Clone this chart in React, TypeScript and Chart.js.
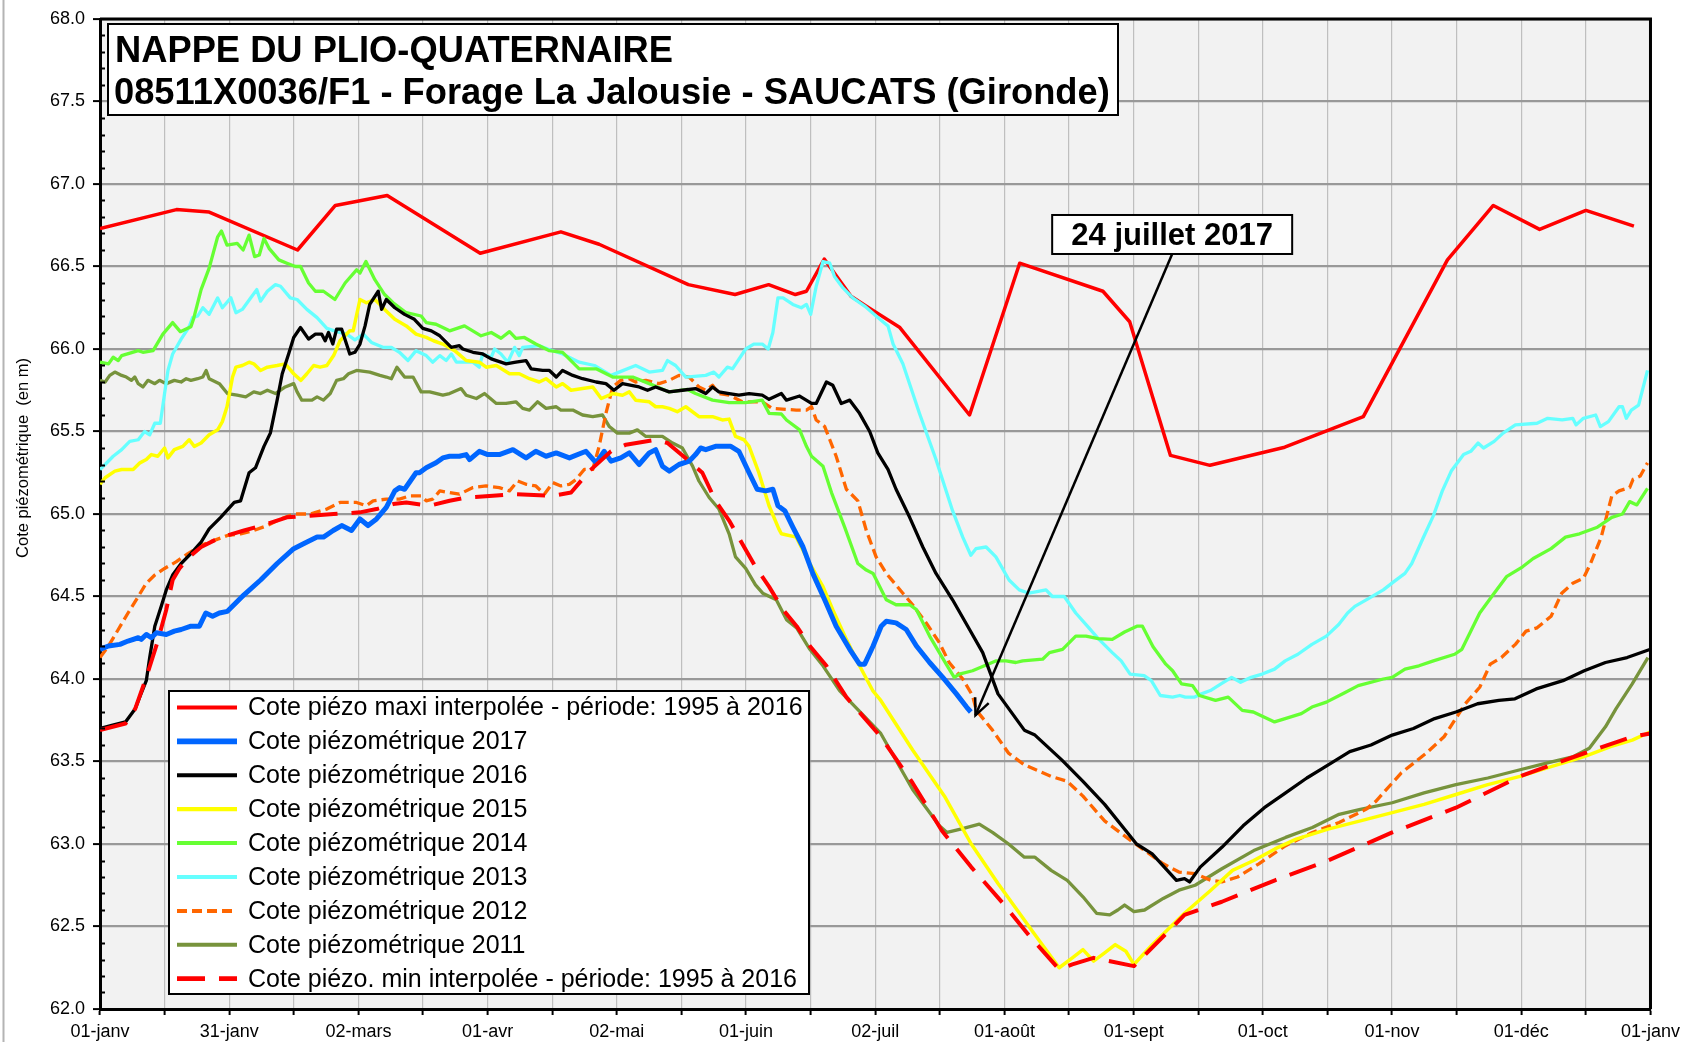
import React, { useEffect, useRef } from 'react';
import { Chart, registerables } from 'chart.js';

Chart.register(...registerables);

const FONT = "'Liberation Sans', Arial, Helvetica, sans-serif";
const W = 1686;
const H = 1042;

// ---------- texts ----------
const titleLines = ['NAPPE DU PLIO-QUATERNAIRE', '08511X0036/F1 - Forage La Jalousie - SAUCATS (Gironde)'];
const yAxisTitle = 'Cote piézométrique  (en m)';
const xTickLabels = ['01-janv', '31-janv', '02-mars', '01-avr', '02-mai', '01-juin', '02-juil', '01-août', '01-sept', '01-oct', '01-nov', '01-déc', '01-janv'];
const annotationText = '24 juillet 2017';

// ---------- axes ----------
const yMin = 62;
const yMax = 68;
const yStep = 0.5;
const yMinorStep = 0.1;
const dayMax = 365;
const xSubdivisions = 24;

// annotation anchor (day, level) and arrow tip
const annotationAnchor = [252.4, 66.694];
const annotationTip = [206.1, 63.78];

type Pt = [number, number];

// ---------- series: [day of year, level in m] ----------
const maxInterp: Pt[] = [[0,66.73],[18,66.845],[25.7,66.83],[46.5,66.6],[55.4,66.87],[67.6,66.93],[89.5,66.58],[108.5,66.71],[117.5,66.635],[138.5,66.39],[149.5,66.33],[157.4,66.39],[163.7,66.33],[166.3,66.35],[170.5,66.545],[176.8,66.32],[180.4,66.26],[188.3,66.13],[204.7,65.6],[216.5,66.52],[236.1,66.35],[242.4,66.165],[252,65.355],[261.3,65.295],[278.9,65.405],[297.4,65.59],[317.2,66.54],[328,66.87],[338.9,66.725],[349.8,66.84],[361.1,66.745]];

const y2017: Pt[] = [[0,64.18],[2,64.2],[4.7,64.21],[6.6,64.23],[9,64.25],[9.7,64.24],[10.9,64.27],[12.1,64.25],[13.3,64.28],[15.6,64.27],[17.5,64.29],[19.1,64.3],[21.4,64.32],[23.4,64.32],[24.9,64.4],[26.5,64.38],[28.1,64.4],[30,64.41],[33.9,64.51],[37.8,64.6],[41.7,64.7],[45.6,64.79],[47.9,64.82],[51.1,64.86],[52.6,64.86],[54.9,64.9],[56.9,64.93],[59.2,64.9],[61.2,64.97],[63.1,64.93],[65.1,64.97],[67.4,65.04],[69.4,65.14],[70.5,65.16],[71.7,65.15],[74.4,65.25],[75.2,65.25],[76.8,65.28],[79.1,65.31],[80.7,65.34],[82.3,65.35],[84.6,65.35],[86.2,65.36],[87,65.33],[89.3,65.38],[91.3,65.36],[94,65.36],[97.2,65.39],[100.3,65.34],[102.6,65.38],[105,65.35],[107.4,65.37],[110.5,65.34],[114.4,65.38],[116.8,65.31],[118.7,65.38],[120.3,65.32],[122.6,65.34],[124.6,65.37],[126.9,65.3],[129.3,65.37],[130.8,65.39],[132.4,65.29],[134,65.26],[136.3,65.3],[138.7,65.32],[140.2,65.36],[141.4,65.4],[142.6,65.39],[144.9,65.41],[147.3,65.41],[148.5,65.41],[150.4,65.38],[152.8,65.25],[154.7,65.15],[156.7,65.14],[158.4,65.15],[159.6,65.05],[161.2,65.02],[163.1,64.92],[165.5,64.8],[167.8,64.64],[170.6,64.48],[173.3,64.32],[176.5,64.18],[178.8,64.09],[180,64.09],[182,64.2],[183.9,64.32],[185.1,64.35],[187.4,64.34],[189.8,64.3],[192.2,64.2],[195.3,64.1],[198.4,64.01],[201.6,63.91],[204,63.83],[205,63.8]];

const y2016: Pt[] = [[0,63.7],[3,63.72],[6,63.74],[8.3,63.82],[9.5,63.9],[10.9,63.99],[11.7,64.13],[12.9,64.32],[14.4,64.44],[15.6,64.54],[17.1,64.63],[19.1,64.7],[21.4,64.76],[23.8,64.83],[25.7,64.91],[28.4,64.98],[31.6,65.07],[33.1,65.08],[35.1,65.25],[36.6,65.28],[38.6,65.41],[40.1,65.49],[41.7,65.69],[42.9,65.85],[44.4,65.97],[45.6,66.07],[47.2,66.13],[49.1,66.06],[50.7,66.09],[52.2,66.09],[53,66.05],[53.8,66.1],[54.8,66.03],[55.7,66.12],[56.9,66.12],[58.8,65.97],[60,65.98],[61.2,66.03],[62.4,66.14],[63.5,66.27],[65.5,66.35],[66.3,66.24],[67.4,66.3],[69.4,66.25],[71.7,66.21],[74,66.18],[76,66.125],[78,66.11],[80,66.08],[82.7,66.01],[84.6,66.02],[85.4,66],[87.8,65.98],[90.1,65.97],[92.1,65.94],[95.6,65.91],[97.9,65.92],[100.3,65.93],[101.5,65.88],[104.2,65.87],[105.8,65.87],[107.4,65.83],[108.9,65.87],[111.3,65.84],[113.6,65.82],[116.8,65.8],[119.1,65.79],[121,65.75],[123,65.79],[126.9,65.77],[128.9,65.75],[130.8,65.77],[134,65.74],[137.1,65.75],[140.2,65.76],[142.6,65.73],[144.2,65.77],[145.7,65.74],[148.1,65.73],[150.4,65.72],[152.8,65.73],[155.9,65.72],[157.5,65.695],[160.4,65.73],[161.6,65.69],[164.7,65.715],[167.5,65.67],[168.6,65.67],[171,65.8],[172.5,65.78],[174.5,65.67],[176.5,65.69],[178.8,65.61],[181.2,65.5],[183.1,65.37],[185.5,65.27],[187.4,65.15],[190.6,64.98],[193.7,64.8],[196.8,64.64],[200.7,64.48],[204.7,64.3],[207.8,64.16],[211.4,63.91],[217.6,63.69],[220.1,63.66],[226.4,63.51],[231.4,63.38],[236.5,63.24],[244,63],[247.7,62.94],[253.4,62.78],[255.3,62.79],[256.5,62.77],[259,62.86],[264.1,62.98],[269.1,63.11],[274.1,63.22],[279.1,63.31],[284.1,63.4],[287.9,63.46],[294.2,63.56],[299.2,63.6],[304.2,63.66],[309.2,63.7],[314.2,63.76],[319.2,63.8],[324.3,63.85],[329.3,63.87],[333.1,63.88],[338.1,63.94],[344.4,63.99],[349.4,64.05],[354.4,64.1],[359.5,64.13],[365,64.18]];

const y2015: Pt[] = [[0,65.18],[1.2,65.22],[3.5,65.26],[5.1,65.27],[7.8,65.27],[9.4,65.31],[10.9,65.33],[12.1,65.36],[13.6,65.35],[15.2,65.4],[16,65.34],[17.5,65.39],[19.5,65.41],[21,65.45],[22.2,65.41],[23.8,65.43],[25.7,65.48],[27.7,65.51],[28.8,65.56],[29.9,65.65],[31.2,65.83],[32,65.89],[33.5,65.9],[35.1,65.92],[36.2,65.91],[37.8,65.87],[39.4,65.89],[41.7,65.9],[43.6,65.91],[45.6,65.85],[47.3,65.81],[48.7,65.85],[50.3,65.9],[51.8,65.89],[53.4,65.9],[55,65.96],[56.5,66.05],[58.8,66.11],[59.6,66.11],[61.2,66.3],[62.7,66.28],[64.7,66.3],[65.9,66.27],[67,66.24],[69.4,66.18],[72.1,66.14],[74.4,66.09],[76.8,66.07],[78.5,66.05],[80.7,66.03],[83.5,65.99],[86.2,65.93],[89.3,65.92],[90.9,65.89],[93.3,65.9],[96.4,65.85],[98.7,65.85],[101.1,65.82],[103.4,65.8],[105,65.82],[107.4,65.77],[108.9,65.79],[110.9,65.75],[113.6,65.76],[116,65.77],[118,65.7],[120.7,65.73],[123,65.72],[124.6,65.74],[126.1,65.69],[129.3,65.68],[130.8,65.65],[132.4,65.65],[134,65.64],[135.9,65.62],[137.9,65.65],[141,65.59],[144.2,65.59],[146.5,65.57],[148.1,65.575],[149.6,65.47],[151.6,65.45],[152.8,65.41],[155.1,65.25],[157.5,65.05],[159.8,64.91],[160.4,64.88],[163.9,64.86],[167.1,64.7],[170.2,64.56],[172.5,64.42],[175.7,64.24],[178.4,64.1],[181.9,63.93],[183.8,63.87],[191.3,63.57],[198.8,63.29],[205.1,63],[211.4,62.76],[220.1,62.45],[225.8,62.25],[228.9,62.31],[231.4,62.36],[233.9,62.29],[236.5,62.34],[239,62.39],[241.5,62.35],[243.4,62.27],[247.7,62.39],[255.3,62.58],[261.5,62.72],[266.6,62.84],[271.6,62.9],[276.6,62.97],[281.6,63.03],[289.1,63.09],[296.7,63.14],[304.2,63.19],[311.7,63.24],[319.2,63.3],[326.7,63.36],[334.3,63.41],[341.8,63.47],[349.4,63.53],[355.6,63.59],[360.7,63.63],[365,63.68]];

const y2014: Pt[] = [[0,65.92],[2,65.91],[3.1,65.95],[4.3,65.93],[5.1,65.96],[9,65.99],[10.1,65.98],[12.5,65.99],[14.8,66.09],[17.1,66.16],[18.9,66.105],[21.4,66.135],[22,66.18],[23.8,66.36],[25.7,66.49],[27.7,66.68],[28.6,66.715],[29.9,66.63],[32.3,66.64],[33.7,66.6],[35.1,66.69],[36.4,66.56],[37.5,66.57],[38.6,66.67],[39.8,66.61],[42.1,66.54],[44,66.52],[46,66.5],[47.2,66.5],[49.1,66.4],[50.7,66.35],[52.6,66.35],[55.3,66.3],[57.7,66.4],[60.4,66.48],[61.2,66.46],[62.6,66.53],[64.7,66.42],[67,66.33],[69,66.28],[72.1,66.22],[75.6,66.2],[76.8,66.16],[79.1,66.15],[82.3,66.11],[85.8,66.14],[89.7,66.08],[92.1,66.1],[94.4,66.065],[96.4,66.105],[97.9,66.065],[99.9,66.07],[102.6,66.03],[105.8,65.99],[108.9,65.98],[112.8,65.88],[116.8,65.88],[120.7,65.83],[125.4,65.83],[129.3,65.79],[134,65.74],[138.3,65.755],[140.2,65.73],[144.2,65.69],[148.1,65.675],[152,65.675],[155.9,65.69],[157.5,65.61],[160.4,65.606],[161.6,65.57],[164.7,65.51],[166.3,65.41],[167.5,65.35],[170.2,65.29],[172.2,65.13],[175.3,64.92],[178.4,64.7],[180.4,64.66],[182,64.64],[185.1,64.48],[187.4,64.45],[190.6,64.45],[192.2,64.42],[195.3,64.26],[199.2,64.09],[201.1,64.01],[202.3,64.03],[205.4,64.05],[211,64.11],[213.3,64.11],[215.6,64.1],[217.2,64.11],[221.9,64.12],[223.5,64.16],[226.6,64.18],[229.7,64.26],[232.1,64.26],[235,64.245],[238.3,64.24],[241.2,64.285],[244.1,64.32],[245.4,64.32],[247.9,64.195],[250.9,64.09],[252.5,64.05],[254.6,63.97],[257.2,63.96],[258.8,63.9],[262.6,63.87],[265.6,63.89],[268.9,63.81],[271.5,63.8],[276.5,63.74],[279,63.76],[282.8,63.79],[285.3,63.83],[288.7,63.86],[292.9,63.915],[296.2,63.96],[302.1,64],[304.2,64.01],[307.2,64.06],[310.5,64.08],[313.9,64.11],[318.9,64.15],[320.6,64.18],[324.8,64.4],[328.2,64.52],[331.1,64.62],[334.9,64.68],[337.4,64.73],[341.6,64.79],[345,64.86],[348.3,64.88],[352.5,64.92],[355.9,64.98],[358.4,65],[360.1,65.075],[361.8,65.055],[364.3,65.155]];

const y2013: Pt[] = [[0,65.27],[1.2,65.3],[3.1,65.35],[5.1,65.39],[7,65.44],[9,65.45],[10.5,65.5],[11.7,65.48],[12.9,65.55],[14.2,65.55],[15.2,65.73],[16,65.87],[17.1,65.97],[19.1,66.06],[21,66.135],[21.8,66.19],[23,66.2],[24.2,66.25],[25.7,66.21],[27.7,66.31],[28.8,66.25],[30.8,66.31],[32,66.22],[33.5,66.24],[35.5,66.31],[36.9,66.36],[37.8,66.29],[39.4,66.35],[41.3,66.39],[42.5,66.38],[44.8,66.31],[46.4,66.3],[48.7,66.24],[51.1,66.19],[53.4,66.125],[55.7,66.105],[58.1,66.09],[60,66.055],[62,66.09],[63.9,66.04],[66.6,66.01],[68.6,66.01],[70.5,65.98],[72.5,65.93],[74.4,65.99],[76.8,65.96],[78.3,65.92],[80,65.96],[81.5,65.93],[82.7,65.97],[83.9,65.92],[87.8,65.92],[89.3,65.89],[90.1,65.97],[92.1,65.95],[92.9,66],[94.4,65.97],[96,65.92],[97.6,66.01],[98.7,65.96],[99.5,66.01],[103.4,66.02],[105.4,66],[108.9,65.97],[112.8,65.92],[116.4,65.9],[120.3,65.84],[122.2,65.86],[126.1,65.9],[129.3,65.86],[132.4,65.87],[133.6,65.93],[135.5,65.9],[137.9,65.83],[142.6,65.84],[144.5,65.86],[145.7,65.83],[147.7,65.89],[148.9,65.88],[152,66],[153.9,66.03],[155.9,66.03],[157.3,66],[158.4,66.1],[159.6,66.31],[160.8,66.31],[163.1,66.27],[165.1,66.25],[166.3,66.27],[167.3,66.21],[168.6,66.38],[170.2,66.53],[171.8,66.52],[172.9,66.44],[174.9,66.37],[177.2,66.31],[180,66.26],[182.7,66.2],[185.5,66.14],[186.7,66.03],[189,65.91],[192.9,65.61],[196.8,65.33],[200.7,65.02],[203.1,64.86],[205,64.75],[206.2,64.79],[208.6,64.8],[210.9,64.74],[214,64.6],[216.4,64.54],[218.7,64.52],[222.7,64.54],[224.2,64.5],[227,64.5],[229.7,64.4],[232.8,64.31],[235,64.245],[238.3,64.16],[240.4,64.11],[242.5,64.03],[245.8,64.02],[247.5,63.99],[249.6,63.9],[252.5,63.89],[254.2,63.9],[255.5,63.89],[257.6,63.89],[259.3,63.91],[261.4,63.93],[263.9,63.97],[266.4,64.01],[268.5,63.98],[271,64.01],[273.6,64.03],[276.5,64.06],[279,64.11],[282,64.15],[285.3,64.21],[288.7,64.26],[291.6,64.33],[293.7,64.4],[295.4,64.44],[298.8,64.49],[302.1,64.54],[304.6,64.59],[307.2,64.64],[308.8,64.7],[311.4,64.85],[313.9,64.99],[316,65.14],[318.1,65.26],[321,65.36],[322.7,65.38],[324.4,65.43],[325.7,65.4],[328.2,65.44],[330.3,65.49],[333.2,65.54],[338.3,65.55],[340.8,65.58],[344.2,65.57],[346.7,65.58],[347.5,65.54],[349.2,65.58],[352.1,65.6],[353.2,65.53],[355.1,65.56],[357.6,65.65],[358.4,65.65],[359.3,65.58],[360.5,65.63],[362.2,65.66],[364.3,65.87]];

const y2012: Pt[] = [[0,64.13],[2,64.2],[4.3,64.3],[6.6,64.4],[9,64.5],[10.9,64.58],[12.9,64.63],[15.2,64.67],[17.9,64.71],[20.7,64.76],[23.8,64.81],[26.9,64.84],[30,64.87],[33.1,64.88],[36.2,64.9],[39.4,64.93],[42.5,64.97],[45.6,65],[49.5,65],[53.4,65.03],[56.5,65.07],[60.4,65.07],[62.7,65.05],[64.3,65.08],[67.4,65.09],[70.5,65.09],[72.9,65.11],[75.6,65.11],[76.8,65.08],[78.3,65.09],[80,65.14],[82.3,65.13],[84.6,65.12],[87.8,65.16],[90.9,65.17],[94,65.16],[96.4,65.14],[98.3,65.2],[100.3,65.18],[102.6,65.17],[104.6,65.12],[106.6,65.19],[108.5,65.17],[110.5,65.18],[112.1,65.21],[114,65.27],[116,65.27],[117.5,65.41],[119.1,65.61],[120.7,65.77],[122.6,65.81],[124.6,65.82],[126.1,65.8],[128.5,65.81],[131.6,65.79],[134,65.81],[136.3,65.84],[138.7,65.83],[141,65.77],[142.6,65.75],[144.2,65.78],[145.7,65.73],[148.1,65.72],[151.2,65.68],[155.9,65.68],[158.2,65.64],[163.9,65.63],[166.3,65.63],[167.5,65.65],[168.6,65.57],[170.6,65.53],[171.8,65.45],[173.3,65.35],[175.7,65.15],[178.4,65.08],[180.4,64.9],[182.7,64.74],[185.1,64.64],[189,64.52],[191.3,64.45],[194.5,64.34],[197.6,64.22],[199.9,64.1],[203.1,64],[205.4,63.9],[206.3,63.81],[210.1,63.69],[213.9,63.55],[217.6,63.48],[223.9,63.41],[227.7,63.38],[231.4,63.29],[236.5,63.14],[242.7,63.02],[246.5,62.95],[250.3,62.88],[254,62.83],[257.8,62.82],[261.5,62.78],[264.1,62.77],[267.8,62.8],[272.8,62.88],[279.1,62.99],[285.4,63.07],[291.7,63.13],[298,63.21],[300.4,63.26],[306.3,63.43],[312.2,63.55],[316.4,63.65],[318.9,63.75],[321.4,63.85],[324.8,63.95],[327.3,64.09],[329.9,64.13],[333.2,64.21],[335.7,64.29],[338.3,64.31],[341.6,64.38],[344.1,64.52],[346.7,64.58],[349.2,64.61],[350.9,64.7],[353.4,64.86],[354.6,64.98],[355.9,65.11],[357.6,65.14],[360.1,65.16],[360.9,65.21],[362.6,65.23],[364.3,65.31]];

const y2011: Pt[] = [[0,65.81],[1.2,65.8],[2.3,65.84],[3.5,65.86],[5.1,65.84],[6.2,65.83],[7.4,65.81],[8.2,65.83],[9,65.79],[10.1,65.77],[11.3,65.81],[12.9,65.79],[14,65.81],[15.6,65.79],[17.5,65.81],[19.1,65.8],[20.3,65.82],[21.4,65.81],[23,65.82],[24.2,65.83],[25,65.87],[25.7,65.82],[28.1,65.79],[30,65.73],[32.3,65.72],[34.3,65.71],[36.2,65.74],[37.8,65.73],[39.4,65.75],[41.3,65.73],[43.6,65.77],[45.6,65.79],[46.4,65.74],[47.5,65.69],[49.9,65.69],[51.1,65.71],[52.6,65.69],[54.2,65.73],[55.7,65.81],[57.3,65.82],[58.5,65.85],[60.4,65.87],[63.5,65.86],[65.9,65.84],[67.4,65.83],[68.6,65.82],[69.9,65.89],[71.7,65.83],[73.7,65.83],[75.6,65.74],[77.6,65.74],[80.7,65.72],[82.3,65.73],[85,65.76],[86.2,65.72],[88.6,65.7],[90.5,65.73],[93.3,65.67],[95.6,65.67],[97.9,65.68],[99.5,65.64],[101.1,65.63],[103,65.68],[105,65.64],[107.4,65.65],[108.5,65.63],[111.3,65.63],[113.6,65.6],[116,65.59],[118.3,65.6],[119.9,65.53],[121.8,65.49],[124.6,65.49],[126.5,65.51],[128.5,65.47],[132.4,65.47],[134.8,65.43],[137.1,65.4],[139.5,65.29],[141,65.2],[143.4,65.1],[145.7,65.03],[148.1,64.88],[149.6,64.74],[152,64.67],[154.3,64.57],[156,64.52],[159.2,64.48],[161.6,64.36],[164,64.31],[167.1,64.18],[170.2,64.08],[174.1,63.93],[183.8,63.67],[191.3,63.33],[197.6,63.11],[199.4,63.07],[202.6,63.09],[207,63.12],[210.1,63.07],[213.9,63],[217.6,62.92],[220.1,62.92],[223.9,62.84],[227.7,62.78],[231.4,62.68],[234.6,62.58],[237.7,62.57],[239.6,62.6],[241.2,62.63],[243.4,62.59],[245.9,62.6],[250.3,62.67],[254,62.72],[257.8,62.75],[264.1,62.85],[271.6,62.96],[279.1,63.04],[285.4,63.1],[291.7,63.18],[296.7,63.21],[304.2,63.25],[311.7,63.31],[319.2,63.36],[326.7,63.4],[334.3,63.45],[340.5,63.49],[346.9,63.53],[350.6,63.58],[354.4,63.71],[356.9,63.82],[360.7,63.97],[364.4,64.13]];

const minInterp: Pt[] = [[0,63.69],[6,63.73],[8.3,63.82],[10.9,64.01],[13.6,64.23],[15.6,64.42],[17.1,64.6],[18.7,64.67],[21,64.74],[23.8,64.8],[26.9,64.84],[30,64.87],[33.9,64.9],[39.4,64.94],[44,64.98],[49.5,64.99],[55,65],[61.2,65.01],[65.1,65.03],[69,65.06],[72.1,65.07],[77.6,65.05],[82.3,65.08],[86.2,65.1],[92.5,65.11],[97.2,65.12],[106.6,65.11],[110.9,65.13],[115.2,65.26],[120.3,65.38],[123.8,65.42],[130.8,65.45],[133.6,65.43],[138.7,65.32],[141.8,65.25],[144.9,65.08],[148.1,64.96],[151.2,64.82],[154.3,64.68],[157.5,64.56],[160.8,64.42],[164,64.32],[167.1,64.2],[171,64.08],[175.7,63.89],[183.8,63.65],[191.3,63.37],[198.2,63.08],[205.1,62.86],[212.6,62.64],[218.9,62.44],[225.8,62.24],[228.9,62.27],[233.9,62.31],[243.4,62.26],[255.3,62.57],[264.1,62.65],[276.6,62.78],[289.1,62.9],[304.2,63.07],[319.2,63.22],[334.3,63.41],[349.4,63.55],[360.7,63.65],[365,63.67]];

// ---------- series definitions (legend order) ----------
const seriesDefs = [
  { label: 'Cote piézo maxi interpolée - période: 1995 à 2016', data: maxInterp, color: '#ff0000', width: 3.5, dash: [] as number[], order: 9 },
  { label: 'Cote piézométrique 2017', data: y2017, color: '#0066ff', width: 5, dash: [] as number[], order: 2 },
  { label: 'Cote piézométrique 2016', data: y2016, color: '#000000', width: 3.3, dash: [] as number[], order: 3 },
  { label: 'Cote piézométrique 2015', data: y2015, color: '#ffff00', width: 3.5, dash: [] as number[], order: 4 },
  { label: 'Cote piézométrique 2014', data: y2014, color: '#66ff33', width: 3.3, dash: [] as number[], order: 5 },
  { label: 'Cote piézométrique 2013', data: y2013, color: '#66ffff', width: 3.3, dash: [] as number[], order: 6 },
  { label: 'Cote piézométrique 2012', data: y2012, color: '#ff6600', width: 3.3, dash: [10, 5], order: 7 },
  { label: 'Cote piézométrique 2011', data: y2011, color: '#77933c', width: 3.3, dash: [] as number[], order: 8 },
  { label: 'Cote piézo. min interpolée - période: 1995 à 2016', data: minInterp, color: '#ff0000', width: 4, dash: [28, 14], order: 1 },
];

const xTickValues = Array.from({ length: xSubdivisions + 1 }, (_, i) => (i * dayMax) / xSubdivisions);
const yTickValues = Array.from({ length: Math.round((yMax - yMin) / yStep) + 1 }, (_, i) => yMin + i * yStep);
const yMinorValues = Array.from({ length: Math.round((yMax - yMin) / yMinorStep) + 1 }, (_, i) => +(yMin + i * yMinorStep).toFixed(1));

const decorPlugin = {
  id: 'decor',
  beforeDraw(chart: any) {
    const { ctx, chartArea: a, width, height } = chart;
    ctx.save();
    ctx.fillStyle = '#ffffff';
    ctx.fillRect(0, 0, width, height);
    ctx.fillStyle = '#f2f2f2';
    ctx.fillRect(a.left, a.top, a.right - a.left, a.bottom - a.top);
    ctx.strokeStyle = '#b4b4b4';
    ctx.lineWidth = 2;
    ctx.beginPath();
    ctx.moveTo(3.5, 0);
    ctx.lineTo(3.5, height);
    ctx.stroke();
    ctx.restore();
  },
  afterDraw(chart: any) {
    const { ctx, chartArea: a } = chart;
    const xs = chart.scales.x;
    const ys = chart.scales.y;
    ctx.save();

    // minor y ticks
    ctx.strokeStyle = '#000';
    ctx.lineWidth = 2;
    yMinorValues.forEach((v) => {
      if (Math.abs(v / yStep - Math.round(v / yStep)) < 1e-6) return;
      const py = Math.round(ys.getPixelForValue(v)) + 0.5;
      ctx.beginPath();
      ctx.moveTo(a.left, py);
      ctx.lineTo(a.left + 5, py);
      ctx.stroke();
    });

    // top and right frame
    ctx.strokeStyle = '#000';
    ctx.lineWidth = 3;
    ctx.beginPath();
    ctx.moveTo(a.left, a.top);
    ctx.lineTo(a.right, a.top);
    ctx.lineTo(a.right, a.bottom);
    ctx.stroke();

    // y axis title
    ctx.save();
    ctx.translate(23.5, 458);
    ctx.rotate(-Math.PI / 2);
    ctx.fillStyle = '#000';
    ctx.font = `16.5px ${FONT}`;
    ctx.textAlign = 'center';
    ctx.textBaseline = 'middle';
    ctx.fillText(yAxisTitle, 0, 0);
    ctx.restore();

    // title box
    const tb = { left: a.left + 8, top: a.top + 5, right: 1118, bottom: 115 };
    ctx.fillStyle = '#fff';
    ctx.fillRect(tb.left, tb.top, tb.right - tb.left, tb.bottom - tb.top);
    ctx.strokeStyle = '#000';
    ctx.lineWidth = 2;
    ctx.strokeRect(tb.left, tb.top, tb.right - tb.left, tb.bottom - tb.top);
    ctx.fillStyle = '#000';
    ctx.font = `bold 36.3px ${FONT}`;
    ctx.textAlign = 'left';
    ctx.textBaseline = 'alphabetic';
    ctx.fillText(titleLines[0], tb.left + 7, tb.top + 38);
    ctx.fillText(titleLines[1], tb.left + 6, tb.top + 80);

    // annotation arrow + box
    const bx = xs.getPixelForValue(annotationAnchor[0]);
    const by = ys.getPixelForValue(annotationAnchor[1]);
    const bw = 240;
    const bh = 39;
    const tx = xs.getPixelForValue(annotationTip[0]);
    const ty = ys.getPixelForValue(annotationTip[1]);
    const sx = bx;
    const sy = by + bh / 2;
    ctx.strokeStyle = '#000';
    ctx.lineWidth = 2.5;
    ctx.beginPath();
    ctx.moveTo(sx, sy);
    ctx.lineTo(tx, ty);
    ctx.stroke();
    const ang = Math.atan2(ty - sy, tx - sx);
    const hl = 18;
    const ha = 0.42;
    ctx.beginPath();
    ctx.moveTo(tx - hl * Math.cos(ang - ha), ty - hl * Math.sin(ang - ha));
    ctx.lineTo(tx, ty);
    ctx.lineTo(tx - hl * Math.cos(ang + ha), ty - hl * Math.sin(ang + ha));
    ctx.stroke();
    ctx.fillStyle = '#fff';
    ctx.fillRect(bx - bw / 2, by - bh / 2, bw, bh);
    ctx.lineWidth = 2;
    ctx.strokeRect(bx - bw / 2, by - bh / 2, bw, bh);
    ctx.fillStyle = '#000';
    ctx.font = `bold 31px ${FONT}`;
    ctx.textAlign = 'center';
    ctx.textBaseline = 'alphabetic';
    ctx.fillText(annotationText, bx, by + 11);

    // legend
    const lg = { left: 169, top: 691, width: 640, height: 303, row: 33.9, first: 16.5 };
    ctx.fillStyle = '#fff';
    ctx.fillRect(lg.left, lg.top, lg.width, lg.height);
    ctx.strokeStyle = '#000';
    ctx.lineWidth = 2;
    ctx.strokeRect(lg.left, lg.top, lg.width, lg.height);
    ctx.font = `25px ${FONT}`;
    ctx.textAlign = 'left';
    ctx.textBaseline = 'middle';
    chart.data.datasets.forEach((ds: any, i: number) => {
      const cy = lg.top + lg.first + i * lg.row;
      ctx.strokeStyle = ds.borderColor;
      ctx.lineWidth = ds.borderWidth + 0.7;
      ctx.setLineDash(ds.borderDash || []);
      ctx.lineCap = 'butt';
      ctx.beginPath();
      ctx.moveTo(lg.left + 8, cy);
      ctx.lineTo(lg.left + 68, cy);
      ctx.stroke();
      ctx.setLineDash([]);
      ctx.fillStyle = '#000';
      ctx.fillText(ds.label, lg.left + 79, cy + 1);
    });

    ctx.restore();
  },
};

export default function App() {
  const ref = useRef<HTMLCanvasElement>(null);
  useEffect(() => {
    const canvas = ref.current;
    if (!canvas) return;
    const chart = new Chart(canvas, {
      type: 'line',
      data: {
        datasets: seriesDefs.map((s) => ({
          label: s.label,
          data: s.data.map(([x, y]) => ({ x, y })),
          borderColor: s.color,
          backgroundColor: s.color,
          borderWidth: s.width,
          borderDash: s.dash,
          order: s.order,
          pointRadius: 0,
          tension: 0,
          fill: false,
          borderJoinStyle: 'round' as const,
        })),
      },
      options: {
        responsive: false,
        animation: false,
        devicePixelRatio: 1,
        layout: { padding: { left: 0, top: 19, right: 33, bottom: 0 } },
        plugins: { legend: { display: false }, tooltip: { enabled: false }, title: { display: false } },
        scales: {
          x: {
            type: 'linear',
            min: 0,
            max: dayMax,
            afterBuildTicks: (s: any) => {
              s.ticks = xTickValues.map((v) => ({ value: v }));
            },
            afterFit: (s: any) => {
              s.height = H - 1009;
            },
            ticks: {
              autoSkip: false,
              maxRotation: 0,
              minRotation: 0,
              padding: 6,
              color: '#000',
              font: { family: FONT, size: 18 },
              callback: (_v: any, i: number) => (i % 2 === 0 ? xTickLabels[i / 2] : ''),
            },
            grid: { color: '#bfbfbf', lineWidth: 1.2, tickColor: '#000', tickLength: 6, tickWidth: 2, drawTicks: true },
            border: { display: true, color: '#000', width: 3 },
          },
          y: {
            type: 'linear',
            min: yMin,
            max: yMax,
            afterBuildTicks: (s: any) => {
              s.ticks = yTickValues.map((v) => ({ value: v }));
            },
            afterFit: (s: any) => {
              s.width = 100;
            },
            ticks: {
              padding: 8,
              color: '#000',
              font: { family: FONT, size: 18 },
              callback: (v: any) => Number(v).toFixed(1),
            },
            grid: { color: '#999999', lineWidth: 2.2, tickColor: '#000', tickLength: 7, tickWidth: 2, drawTicks: true },
            border: { display: true, color: '#000', width: 3 },
          },
        },
      },
      plugins: [decorPlugin],
    } as any);
    return () => chart.destroy();
  }, []);
  return (
    <div style={{ position: 'fixed', left: 0, top: 0, width: W, height: H, background: '#fff' }}>
      <canvas ref={ref} width={W} height={H} style={{ display: 'block', width: W, height: H }} />
    </div>
  );
}
